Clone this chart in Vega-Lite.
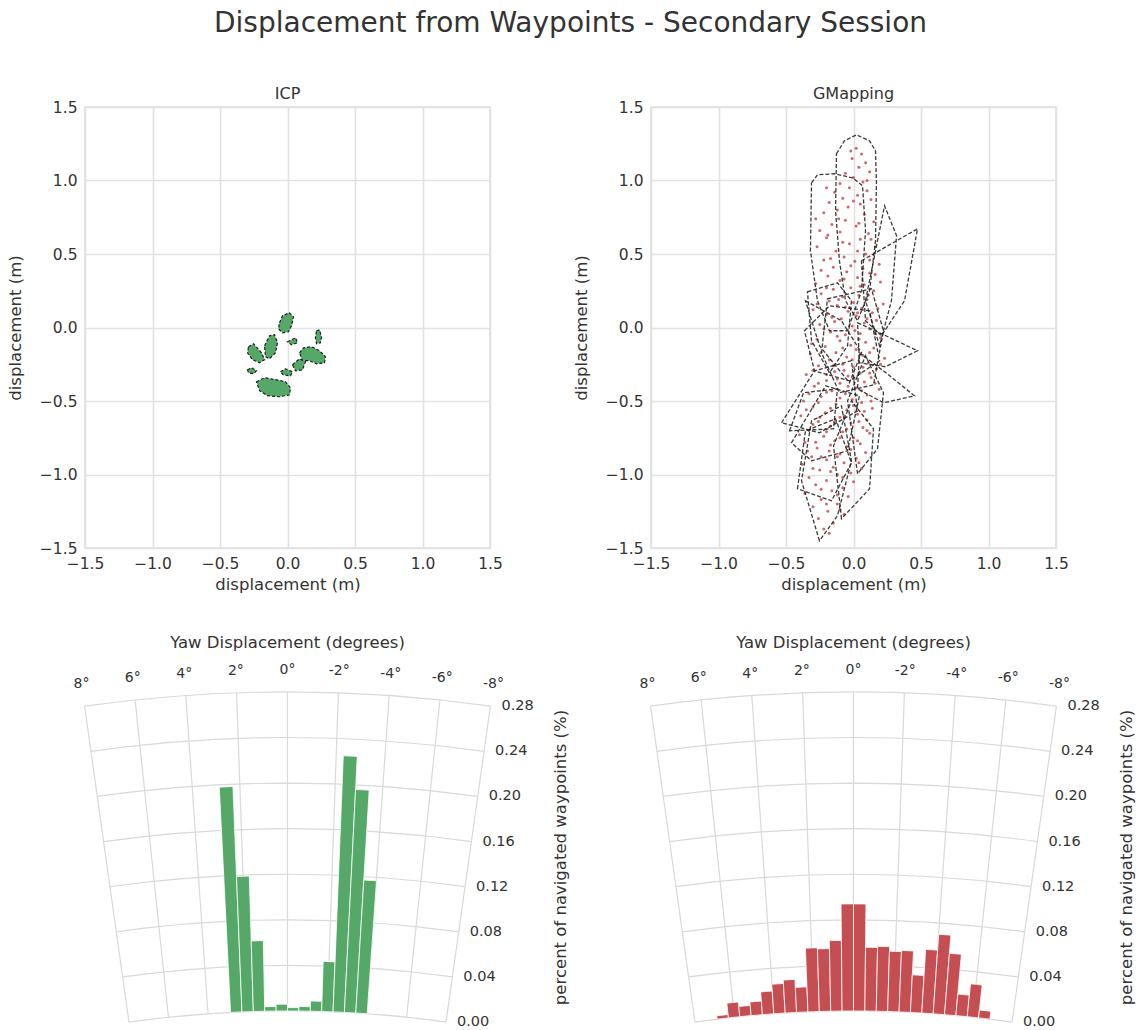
{
  "$schema": "https://vega.github.io/schema/vega-lite/v6.json",
  "padding": {"left": 6, "top": 10, "right": 4, "bottom": 2},
  "background": "white",
  "title": {"text": "Displacement from Waypoints - Secondary Session", "fontSize": 28, "fontWeight": "normal", "color": "#333333", "anchor": "middle", "offset": 47, "font": "DejaVu Sans"},
  "config": {
    "font": "DejaVu Sans",
    "view": {"stroke": "#dedede", "strokeWidth": 1.6},
    "axis": {"domain": false, "ticks": false, "grid": true, "gridColor": "#e2e2e2", "gridWidth": 1.6, "labelFont": "DejaVu Sans", "labelFontSize": 15.5, "labelColor": "#333333", "labelPadding": 8, "titleFont": "DejaVu Sans", "titleFontSize": 16.5, "titleFontWeight": "normal", "titleColor": "#333333", "titlePadding": 5},
    "title": {"font": "DejaVu Sans", "fontWeight": "normal", "color": "#333333"}
  },
  "datasets": {
    "icpBlobs": [
      {"id": "a", "k": 0, "x": -0.059, "y": 0.032}, {"id": "a", "k": 1, "x": -0.037, "y": 0.08}, {"id": "a", "k": 2, "x": 0.013, "y": 0.1}, {"id": "a", "k": 3, "x": 0.044, "y": 0.073}, {"id": "a", "k": 4, "x": 0.03, "y": 0.012}, {"id": "a", "k": 5, "x": 0.007, "y": -0.029}, {"id": "a", "k": 6, "x": -0.037, "y": -0.036}, {"id": "a", "k": 7, "x": -0.067, "y": -0.009},
      {"id": "b", "k": 0, "x": -0.289, "y": -0.131}, {"id": "b", "k": 1, "x": -0.252, "y": -0.111}, {"id": "b", "k": 2, "x": -0.193, "y": -0.172}, {"id": "b", "k": 3, "x": -0.17, "y": -0.219}, {"id": "b", "k": 4, "x": -0.207, "y": -0.24}, {"id": "b", "k": 5, "x": -0.259, "y": -0.219}, {"id": "b", "k": 6, "x": -0.296, "y": -0.172},
      {"id": "c", "k": 0, "x": -0.17, "y": -0.124}, {"id": "c", "k": 1, "x": -0.133, "y": -0.056}, {"id": "c", "k": 2, "x": -0.096, "y": -0.049}, {"id": "c", "k": 3, "x": -0.074, "y": -0.104}, {"id": "c", "k": 4, "x": -0.089, "y": -0.172}, {"id": "c", "k": 5, "x": -0.133, "y": -0.213}, {"id": "c", "k": 6, "x": -0.163, "y": -0.199},
      {"id": "d", "k": 0, "x": 0.0, "y": -0.097}, {"id": "d", "k": 1, "x": 0.059, "y": -0.07}, {"id": "d", "k": 2, "x": 0.074, "y": -0.104}, {"id": "d", "k": 3, "x": 0.03, "y": -0.118},
      {"id": "e", "k": 0, "x": 0.215, "y": -0.022}, {"id": "e", "k": 1, "x": 0.237, "y": -0.016}, {"id": "e", "k": 2, "x": 0.252, "y": -0.063}, {"id": "e", "k": 3, "x": 0.244, "y": -0.104}, {"id": "e", "k": 4, "x": 0.215, "y": -0.111}, {"id": "e", "k": 5, "x": 0.207, "y": -0.07},
      {"id": "f", "k": 0, "x": 0.089, "y": -0.172}, {"id": "f", "k": 1, "x": 0.119, "y": -0.138}, {"id": "f", "k": 2, "x": 0.178, "y": -0.131}, {"id": "f", "k": 3, "x": 0.237, "y": -0.158}, {"id": "f", "k": 4, "x": 0.281, "y": -0.199}, {"id": "f", "k": 5, "x": 0.274, "y": -0.24}, {"id": "f", "k": 6, "x": 0.215, "y": -0.247}, {"id": "f", "k": 7, "x": 0.163, "y": -0.226}, {"id": "f", "k": 8, "x": 0.111, "y": -0.226},
      {"id": "g", "k": 0, "x": 0.037, "y": -0.253}, {"id": "g", "k": 1, "x": 0.089, "y": -0.213}, {"id": "g", "k": 2, "x": 0.133, "y": -0.233}, {"id": "g", "k": 3, "x": 0.111, "y": -0.288}, {"id": "g", "k": 4, "x": 0.059, "y": -0.295},
      {"id": "h", "k": 0, "x": -0.296, "y": -0.288}, {"id": "h", "k": 1, "x": -0.267, "y": -0.274}, {"id": "h", "k": 2, "x": -0.23, "y": -0.294}, {"id": "h", "k": 3, "x": -0.252, "y": -0.315}, {"id": "h", "k": 4, "x": -0.289, "y": -0.308},
      {"id": "i", "k": 0, "x": -0.052, "y": -0.301}, {"id": "i", "k": 1, "x": -0.015, "y": -0.281}, {"id": "i", "k": 2, "x": 0.037, "y": -0.301}, {"id": "i", "k": 3, "x": 0.022, "y": -0.329}, {"id": "i", "k": 4, "x": -0.03, "y": -0.322},
      {"id": "j", "k": 0, "x": -0.23, "y": -0.369}, {"id": "j", "k": 1, "x": -0.17, "y": -0.342}, {"id": "j", "k": 2, "x": -0.081, "y": -0.356}, {"id": "j", "k": 3, "x": -0.015, "y": -0.369}, {"id": "j", "k": 4, "x": 0.022, "y": -0.41}, {"id": "j", "k": 5, "x": 0.015, "y": -0.458}, {"id": "j", "k": 6, "x": -0.059, "y": -0.471}, {"id": "j", "k": 7, "x": -0.148, "y": -0.464}, {"id": "j", "k": 8, "x": -0.207, "y": -0.43}
    ],
    "gmHulls": [
      {"id": 1, "k": 0, "x": -0.126, "y": 1.182}, {"id": 1, "k": 1, "x": -0.067, "y": 1.27}, {"id": 1, "k": 2, "x": 0.022, "y": 1.311}, {"id": 1, "k": 3, "x": 0.119, "y": 1.27}, {"id": 1, "k": 4, "x": 0.163, "y": 1.202}, {"id": 1, "k": 5, "x": 0.17, "y": 0.984}, {"id": 1, "k": 6, "x": 0.163, "y": 0.59}, {"id": 1, "k": 7, "x": 0.119, "y": 0.249}, {"id": 1, "k": 8, "x": 0.03, "y": 0.046}, {"id": 1, "k": 9, "x": -0.059, "y": 0.182}, {"id": 1, "k": 10, "x": -0.104, "y": 0.454}, {"id": 1, "k": 11, "x": -0.133, "y": 0.794},
      {"id": 2, "k": 0, "x": -0.311, "y": 0.984}, {"id": 2, "k": 1, "x": -0.267, "y": 1.039}, {"id": 2, "k": 2, "x": -0.141, "y": 1.046}, {"id": 2, "k": 3, "x": -0.007, "y": 1.018}, {"id": 2, "k": 4, "x": 0.067, "y": 0.964}, {"id": 2, "k": 5, "x": 0.089, "y": 0.658}, {"id": 2, "k": 6, "x": 0.059, "y": 0.249}, {"id": 2, "k": 7, "x": -0.044, "y": -0.022}, {"id": 2, "k": 8, "x": -0.178, "y": -0.022}, {"id": 2, "k": 9, "x": -0.267, "y": 0.182}, {"id": 2, "k": 10, "x": -0.319, "y": 0.522},
      {"id": 3, "k": 0, "x": 0.089, "y": 0.182}, {"id": 3, "k": 1, "x": 0.23, "y": 0.828}, {"id": 3, "k": 2, "x": 0.319, "y": 0.624}, {"id": 3, "k": 3, "x": 0.281, "y": 0.182}, {"id": 3, "k": 4, "x": 0.193, "y": -0.124},
      {"id": 4, "k": 0, "x": 0.059, "y": 0.454}, {"id": 4, "k": 1, "x": 0.474, "y": 0.671}, {"id": 4, "k": 2, "x": 0.378, "y": 0.182}, {"id": 4, "k": 3, "x": 0.207, "y": -0.056}, {"id": 4, "k": 4, "x": 0.089, "y": 0.046},
      {"id": 5, "k": 0, "x": -0.341, "y": 0.243}, {"id": 5, "k": 1, "x": -0.119, "y": 0.304}, {"id": 5, "k": 2, "x": -0.015, "y": 0.182}, {"id": 5, "k": 3, "x": -0.044, "y": -0.124}, {"id": 5, "k": 4, "x": -0.178, "y": -0.308}, {"id": 5, "k": 5, "x": -0.311, "y": -0.09},
      {"id": 6, "k": 0, "x": 0.03, "y": 0.032}, {"id": 6, "k": 1, "x": 0.193, "y": -0.036}, {"id": 6, "k": 2, "x": 0.474, "y": -0.158}, {"id": 6, "k": 3, "x": 0.237, "y": -0.267}, {"id": 6, "k": 4, "x": 0.044, "y": -0.24},
      {"id": 7, "k": 0, "x": 0.044, "y": -0.172}, {"id": 7, "k": 1, "x": 0.222, "y": -0.295}, {"id": 7, "k": 2, "x": 0.452, "y": -0.465}, {"id": 7, "k": 3, "x": 0.222, "y": -0.512}, {"id": 7, "k": 4, "x": 0.03, "y": -0.417},
      {"id": 8, "k": 0, "x": -0.193, "y": 0.195}, {"id": 8, "k": 1, "x": 0.133, "y": 0.263}, {"id": 8, "k": 2, "x": 0.222, "y": -0.022}, {"id": 8, "k": 3, "x": 0.148, "y": -0.39}, {"id": 8, "k": 4, "x": -0.104, "y": -0.444}, {"id": 8, "k": 5, "x": -0.237, "y": -0.172},
      {"id": 9, "k": 0, "x": -0.356, "y": 0.182}, {"id": 9, "k": 1, "x": -0.089, "y": 0.046}, {"id": 9, "k": 2, "x": 0.059, "y": -0.172}, {"id": 9, "k": 3, "x": -0.03, "y": -0.376}, {"id": 9, "k": 4, "x": -0.252, "y": -0.124},
      {"id": 10, "k": 0, "x": -0.533, "y": -0.648}, {"id": 10, "k": 1, "x": -0.289, "y": -0.295}, {"id": 10, "k": 2, "x": -0.015, "y": -0.226}, {"id": 10, "k": 3, "x": 0.03, "y": -0.567}, {"id": 10, "k": 4, "x": -0.252, "y": -0.716},
      {"id": 11, "k": 0, "x": -0.459, "y": -0.784}, {"id": 11, "k": 1, "x": -0.207, "y": -0.397}, {"id": 11, "k": 2, "x": 0.044, "y": -0.465}, {"id": 11, "k": 3, "x": -0.044, "y": -0.839}, {"id": 11, "k": 4, "x": -0.311, "y": -0.907},
      {"id": 12, "k": 0, "x": -0.252, "y": -1.451}, {"id": 12, "k": 1, "x": -0.385, "y": -1.043}, {"id": 12, "k": 2, "x": -0.311, "y": -0.635}, {"id": 12, "k": 3, "x": -0.089, "y": -0.533}, {"id": 12, "k": 4, "x": -0.015, "y": -0.907}, {"id": 12, "k": 5, "x": -0.119, "y": -1.281},
      {"id": 13, "k": 0, "x": -0.415, "y": -1.097}, {"id": 13, "k": 1, "x": -0.356, "y": -0.703}, {"id": 13, "k": 2, "x": -0.133, "y": -0.621}, {"id": 13, "k": 3, "x": -0.015, "y": -0.921}, {"id": 13, "k": 4, "x": -0.163, "y": -1.179},
      {"id": 14, "k": 0, "x": -0.089, "y": -1.301}, {"id": 14, "k": 1, "x": -0.148, "y": -0.805}, {"id": 14, "k": 2, "x": -0.015, "y": -0.499}, {"id": 14, "k": 3, "x": 0.148, "y": -0.689}, {"id": 14, "k": 4, "x": 0.119, "y": -1.097},
      {"id": 15, "k": 0, "x": 0.03, "y": -0.995}, {"id": 15, "k": 1, "x": -0.044, "y": -0.499}, {"id": 15, "k": 2, "x": 0.089, "y": -0.192}, {"id": 15, "k": 3, "x": 0.222, "y": -0.444}, {"id": 15, "k": 4, "x": 0.178, "y": -0.825},
      {"id": 16, "k": 0, "x": -0.474, "y": -0.703}, {"id": 16, "k": 1, "x": -0.37, "y": -0.444}, {"id": 16, "k": 2, "x": -0.119, "y": -0.417}, {"id": 16, "k": 3, "x": -0.148, "y": -0.689},
      {"id": 17, "k": 0, "x": -0.363, "y": -0.022}, {"id": 17, "k": 1, "x": -0.178, "y": 0.148}, {"id": 17, "k": 2, "x": 0.119, "y": 0.114}, {"id": 17, "k": 3, "x": 0.193, "y": -0.226}, {"id": 17, "k": 4, "x": -0.03, "y": -0.363}, {"id": 17, "k": 5, "x": -0.289, "y": -0.295}
    ],
    "gmPoints": [
      {"x": 0.02, "y": 1.22}, {"x": 0.06, "y": 1.18}, {"x": -0.01, "y": 1.15}, {"x": 0.09, "y": 1.12}, {"x": 0.04, "y": 1.09}, {"x": -0.06, "y": 1.05}, {"x": 0.12, "y": 1.06}, {"x": 0.0, "y": 1.02}, {"x": -0.1, "y": 0.98}, {"x": 0.07, "y": 0.99},
      {"x": -0.03, "y": 0.95}, {"x": 0.1, "y": 0.93}, {"x": -0.14, "y": 0.92}, {"x": 0.03, "y": 0.9}, {"x": -0.08, "y": 0.88}, {"x": 0.13, "y": 0.87}, {"x": -0.18, "y": 0.85}, {"x": 0.05, "y": 0.84}, {"x": -0.04, "y": 0.82}, {"x": -0.12, "y": 0.8},
      {"x": -0.22, "y": 0.78}, {"x": 0.08, "y": 0.77}, {"x": -0.28, "y": 0.74}, {"x": -0.06, "y": 0.73}, {"x": 0.15, "y": 0.72}, {"x": -0.16, "y": 0.7}, {"x": 0.02, "y": 0.69}, {"x": -0.25, "y": 0.66}, {"x": -0.1, "y": 0.65}, {"x": 0.11, "y": 0.64},
      {"x": -0.2, "y": 0.61}, {"x": 0.05, "y": 0.6}, {"x": -0.03, "y": 0.57}, {"x": -0.27, "y": 0.55}, {"x": 0.16, "y": 0.55}, {"x": -0.13, "y": 0.52}, {"x": 0.09, "y": 0.5}, {"x": -0.07, "y": 0.48}, {"x": -0.22, "y": 0.46}, {"x": 0.01, "y": 0.45},
      {"x": 0.19, "y": 0.43}, {"x": -0.15, "y": 0.41}, {"x": 0.07, "y": 0.4}, {"x": -0.05, "y": 0.38}, {"x": 0.12, "y": 0.37}, {"x": -0.19, "y": 0.35}, {"x": 0.03, "y": 0.34}, {"x": -0.1, "y": 0.32}, {"x": 0.2, "y": 0.31}, {"x": -0.28, "y": 0.3},
      {"x": 0.08, "y": 0.29}, {"x": -0.02, "y": 0.27}, {"x": -0.15, "y": 0.26}, {"x": 0.15, "y": 0.25}, {"x": -0.24, "y": 0.23}, {"x": 0.04, "y": 0.22}, {"x": -0.08, "y": 0.21}, {"x": 0.1, "y": 0.19}, {"x": -0.18, "y": 0.18}, {"x": 0.0, "y": 0.17},
      {"x": 0.22, "y": 0.16}, {"x": -0.12, "y": 0.15}, {"x": 0.06, "y": 0.13}, {"x": -0.3, "y": 0.12}, {"x": -0.04, "y": 0.11}, {"x": 0.14, "y": 0.1}, {"x": -0.2, "y": 0.09}, {"x": 0.02, "y": 0.08}, {"x": -0.09, "y": 0.06}, {"x": 0.17, "y": 0.05},
      {"x": -0.14, "y": 0.04}, {"x": 0.08, "y": 0.03}, {"x": -0.25, "y": 0.02}, {"x": -0.01, "y": 0.01}, {"x": 0.12, "y": -0.01}, {"x": -0.17, "y": -0.03}, {"x": 0.05, "y": -0.04}, {"x": -0.06, "y": -0.05}, {"x": 0.2, "y": -0.07}, {"x": -0.27, "y": -0.08},
      {"x": -0.1, "y": -0.09}, {"x": 0.09, "y": -0.1}, {"x": -0.02, "y": -0.12}, {"x": -0.21, "y": -0.13}, {"x": 0.15, "y": -0.14}, {"x": 0.02, "y": -0.15}, {"x": -0.13, "y": -0.17}, {"x": -0.32, "y": -0.18}, {"x": 0.07, "y": -0.19}, {"x": -0.05, "y": -0.2},
      {"x": 0.23, "y": -0.21}, {"x": -0.18, "y": -0.22}, {"x": 0.11, "y": -0.24}, {"x": -0.08, "y": -0.25}, {"x": -0.26, "y": -0.26}, {"x": 0.0, "y": -0.27}, {"x": 0.17, "y": -0.28}, {"x": -0.14, "y": -0.3}, {"x": 0.05, "y": -0.31}, {"x": -0.35, "y": -0.32},
      {"x": -0.04, "y": -0.33}, {"x": 0.13, "y": -0.34}, {"x": -0.2, "y": -0.36}, {"x": 0.08, "y": -0.37}, {"x": -0.1, "y": -0.38}, {"x": -0.29, "y": -0.4}, {"x": 0.02, "y": -0.41}, {"x": 0.19, "y": -0.42}, {"x": -0.16, "y": -0.43}, {"x": -0.06, "y": -0.45},
      {"x": 0.1, "y": -0.46}, {"x": -0.24, "y": -0.47}, {"x": -0.01, "y": -0.49}, {"x": -0.37, "y": -0.5}, {"x": 0.06, "y": -0.51}, {"x": -0.13, "y": -0.52}, {"x": -0.3, "y": -0.54}, {"x": 0.14, "y": -0.55}, {"x": -0.05, "y": -0.56}, {"x": -0.21, "y": -0.58},
      {"x": 0.03, "y": -0.59}, {"x": -0.39, "y": -0.6}, {"x": -0.1, "y": -0.61}, {"x": 0.1, "y": -0.63}, {"x": -0.26, "y": -0.64}, {"x": -0.02, "y": -0.65}, {"x": -0.17, "y": -0.67}, {"x": 0.07, "y": -0.68}, {"x": -0.33, "y": -0.7}, {"x": -0.08, "y": -0.71},
      {"x": 0.12, "y": -0.72}, {"x": -0.22, "y": -0.74}, {"x": 0.0, "y": -0.75}, {"x": -0.14, "y": -0.77}, {"x": -0.36, "y": -0.78}, {"x": 0.05, "y": -0.79}, {"x": -0.05, "y": -0.81}, {"x": -0.27, "y": -0.82}, {"x": -0.18, "y": -0.84}, {"x": 0.09, "y": -0.85},
      {"x": -0.1, "y": -0.86}, {"x": -0.31, "y": -0.88}, {"x": 0.02, "y": -0.89}, {"x": -0.2, "y": -0.9}, {"x": -0.07, "y": -0.92}, {"x": -0.38, "y": -0.93}, {"x": -0.15, "y": -0.95}, {"x": 0.06, "y": -0.96}, {"x": -0.25, "y": -0.97}, {"x": -0.02, "y": -0.99},
      {"x": -0.12, "y": -1.0}, {"x": -0.33, "y": -1.02}, {"x": -0.2, "y": -1.04}, {"x": 0.0, "y": -1.05}, {"x": -0.28, "y": -1.07}, {"x": -0.08, "y": -1.09}, {"x": -0.16, "y": -1.11}, {"x": -0.36, "y": -1.13}, {"x": -0.04, "y": -1.15}, {"x": -0.24, "y": -1.17},
      {"x": -0.12, "y": -1.2}, {"x": -0.3, "y": -1.22}, {"x": -0.19, "y": -1.25}, {"x": -0.07, "y": -1.27}, {"x": -0.26, "y": -1.3}, {"x": -0.15, "y": -1.33}, {"x": -0.22, "y": -1.37}, {"x": -0.18, "y": -1.4},
      {"x": -0.02, "y": 1.2}, {"x": 0.1, "y": 1.0}, {"x": -0.2, "y": 0.95}, {"x": 0.0, "y": 0.86}, {"x": -0.11, "y": 0.74}, {"x": 0.04, "y": 0.71}, {"x": -0.19, "y": 0.63}, {"x": 0.13, "y": 0.6}, {"x": -0.08, "y": 0.58}, {"x": 0.03, "y": 0.52},
      {"x": -0.17, "y": 0.47}, {"x": 0.12, "y": 0.46}, {"x": -0.02, "y": 0.42}, {"x": -0.24, "y": 0.39}, {"x": 0.16, "y": 0.36}, {"x": -0.07, "y": 0.33}, {"x": 0.05, "y": 0.28}, {"x": -0.2, "y": 0.27}, {"x": 0.11, "y": 0.22}, {"x": -0.11, "y": 0.19},
      {"x": -0.27, "y": 0.16}, {"x": 0.18, "y": 0.13}, {"x": -0.06, "y": 0.14}, {"x": 0.03, "y": 0.1}, {"x": -0.16, "y": 0.07}, {"x": 0.1, "y": 0.06}, {"x": -0.22, "y": -0.01}, {"x": 0.01, "y": -0.02}, {"x": -0.12, "y": -0.06}, {"x": 0.16, "y": -0.04},
      {"x": -0.31, "y": -0.11}, {"x": 0.04, "y": -0.08}, {"x": -0.08, "y": -0.14}, {"x": 0.12, "y": -0.17}, {"x": -0.24, "y": -0.17}, {"x": -0.01, "y": -0.22}, {"x": 0.2, "y": -0.25}, {"x": -0.15, "y": -0.26}, {"x": 0.07, "y": -0.27}, {"x": -0.3, "y": -0.29},
      {"x": -0.07, "y": -0.29}, {"x": 0.12, "y": -0.31}, {"x": -0.2, "y": -0.32}, {"x": 0.0, "y": -0.35}, {"x": -0.12, "y": -0.35}, {"x": 0.16, "y": -0.38}, {"x": -0.26, "y": -0.38}, {"x": -0.04, "y": -0.4}, {"x": 0.06, "y": -0.43}, {"x": -0.2, "y": -0.44},
      {"x": -0.33, "y": -0.45}, {"x": -0.1, "y": -0.48}, {"x": 0.13, "y": -0.5}, {"x": -0.26, "y": -0.51}, {"x": 0.0, "y": -0.53}, {"x": -0.17, "y": -0.55}, {"x": -0.35, "y": -0.56}, {"x": 0.08, "y": -0.57}, {"x": -0.07, "y": -0.6}, {"x": -0.25, "y": -0.61},
      {"x": 0.04, "y": -0.64}, {"x": -0.14, "y": -0.64}, {"x": -0.3, "y": -0.66}, {"x": -0.05, "y": -0.69}, {"x": 0.1, "y": -0.7}, {"x": -0.2, "y": -0.71}, {"x": -0.4, "y": -0.73}, {"x": -0.1, "y": -0.75}, {"x": 0.03, "y": -0.77}, {"x": -0.28, "y": -0.78},
      {"x": -0.17, "y": -0.8}, {"x": -0.02, "y": -0.83}, {"x": -0.34, "y": -0.84}, {"x": -0.12, "y": -0.88}, {"x": -0.24, "y": -0.88}, {"x": 0.04, "y": -0.92}, {"x": -0.17, "y": -0.98}, {"x": -0.3, "y": -0.96}, {"x": -0.08, "y": -1.02}, {"x": -0.24, "y": -1.1},
      {"x": -0.12, "y": -1.14}, {"x": -0.2, "y": -1.2}, {"x": -0.1, "y": -1.24}
    ],
    "rings": [{"r": 0.0}, {"r": 0.04}, {"r": 0.08}, {"r": 0.12}, {"r": 0.16}, {"r": 0.2}, {"r": 0.24}, {"r": 0.28}],
    "spokes": [
      {"deg": 8, "label": "8°"}, {"deg": 6, "label": "6°"}, {"deg": 4, "label": "4°"}, {"deg": 2, "label": "2°"}, {"deg": 0, "label": "0°"},
      {"deg": -2, "label": "-2°"}, {"deg": -4, "label": "-4°"}, {"deg": -6, "label": "-6°"}, {"deg": -8, "label": "-8°"}
    ],
    "icpYaw": [
      {"a0": 2.865, "a1": 2.292, "pct": 0.198}, {"a0": 2.292, "a1": 1.719, "pct": 0.119}, {"a0": 1.719, "a1": 1.146, "pct": 0.062},
      {"a0": 1.146, "a1": 0.573, "pct": 0.004}, {"a0": 0.573, "a1": 0.0, "pct": 0.006}, {"a0": 0.0, "a1": -0.573, "pct": 0.003},
      {"a0": -0.573, "a1": -1.146, "pct": 0.004}, {"a0": -1.146, "a1": -1.719, "pct": 0.009}, {"a0": -1.719, "a1": -2.292, "pct": 0.044},
      {"a0": -2.292, "a1": -2.865, "pct": 0.225}, {"a0": -2.865, "a1": -3.438, "pct": 0.196}, {"a0": -3.438, "a1": -4.011, "pct": 0.117}
    ],
    "gmYaw": [
      {"a0": 6.875, "a1": 6.303, "pct": 0.003}, {"a0": 6.303, "a1": 5.73, "pct": 0.013}, {"a0": 5.73, "a1": 5.157, "pct": 0.009},
      {"a0": 5.157, "a1": 4.584, "pct": 0.012}, {"a0": 4.584, "a1": 4.011, "pct": 0.02}, {"a0": 4.011, "a1": 3.438, "pct": 0.026},
      {"a0": 3.438, "a1": 2.865, "pct": 0.029}, {"a0": 2.865, "a1": 2.292, "pct": 0.022}, {"a0": 2.292, "a1": 1.719, "pct": 0.056},
      {"a0": 1.719, "a1": 1.146, "pct": 0.055}, {"a0": 1.146, "a1": 0.573, "pct": 0.062}, {"a0": 0.573, "a1": 0.0, "pct": 0.094},
      {"a0": 0.0, "a1": -0.573, "pct": 0.094}, {"a0": -0.573, "a1": -1.146, "pct": 0.056}, {"a0": -1.146, "a1": -1.719, "pct": 0.057},
      {"a0": -1.719, "a1": -2.292, "pct": 0.053}, {"a0": -2.292, "a1": -2.865, "pct": 0.054}, {"a0": -2.865, "a1": -3.438, "pct": 0.033},
      {"a0": -3.438, "a1": -4.011, "pct": 0.056}, {"a0": -4.011, "a1": -4.584, "pct": 0.07}, {"a0": -4.584, "a1": -5.157, "pct": 0.054},
      {"a0": -5.157, "a1": -5.73, "pct": 0.019}, {"a0": -5.73, "a1": -6.303, "pct": 0.029}, {"a0": -6.303, "a1": -6.875, "pct": 0.007}
    ]
  },
  "bounds": "flush",
  "columns": 2,
  "spacing": {"column": 161, "row": 144},
  "concat": [
    {
      "width": 405, "height": 441,
      "title": {"text": "ICP", "fontSize": 16, "offset": -2, "anchor": "middle"},
      "data": {"name": "icpBlobs"},
      "mark": {"type": "line", "interpolate": "linear-closed", "fill": "#55a868", "fillOpacity": 1, "stroke": "#1e1e1e", "strokeWidth": 1.2, "strokeDash": [3, 2]},
      "encoding": {
        "x": {"field": "x", "type": "quantitative", "scale": {"domain": [-1.5, 1.5]}, "axis": {"values": [-1.5, -1, -0.5, 0, 0.5, 1, 1.5], "format": ".1f", "title": "displacement (m)", "labelFlush": false}},
        "y": {"field": "y", "type": "quantitative", "scale": {"domain": [-1.5, 1.5]}, "axis": {"values": [-1.5, -1, -0.5, 0, 0.5, 1, 1.5], "format": ".1f", "title": "displacement (m)", "labelFlush": false, "titlePadding": 16}},
        "detail": {"field": "id"},
        "order": {"field": "k"}
      }
    },
    {
      "width": 405, "height": 441,
      "title": {"text": "GMapping", "fontSize": 16, "offset": -2, "anchor": "middle"},
      "layer": [
        {
          "data": {"name": "gmPoints"},
          "mark": {"type": "circle", "size": 9, "color": "#c44e52", "opacity": 0.85},
          "encoding": {
            "x": {"field": "x", "type": "quantitative", "scale": {"domain": [-1.5, 1.5]}, "axis": {"values": [-1.5, -1, -0.5, 0, 0.5, 1, 1.5], "format": ".1f", "title": "displacement (m)", "labelFlush": false}},
            "y": {"field": "y", "type": "quantitative", "scale": {"domain": [-1.5, 1.5]}, "axis": {"values": [-1.5, -1, -0.5, 0, 0.5, 1, 1.5], "format": ".1f", "title": "displacement (m)", "labelFlush": false, "titlePadding": 16}}
          }
        },
        {
          "data": {"name": "gmHulls"},
          "mark": {"type": "line", "interpolate": "linear-closed", "stroke": "#262626", "strokeWidth": 1.3, "strokeDash": [4, 2], "opacity": 0.9},
          "encoding": {
            "x": {"field": "x", "type": "quantitative", "scale": {"domain": [-1.5, 1.5]}},
            "y": {"field": "y", "type": "quantitative", "scale": {"domain": [-1.5, 1.5]}},
            "detail": {"field": "id"},
            "order": {"field": "k"}
          }
        }
      ]
    },
    {
      "width": 405, "height": 330,
      "view": {"stroke": null},
      "title": {"text": "Yaw Displacement (degrees)", "fontSize": 16.5, "frame": "group", "offset": 12, "anchor": "middle"},
      "layer": [
        {
          "data": {"name": "rings"},
          "mark": {"type": "arc", "filled": false, "color": "#d9d9d9", "strokeWidth": 1.2, "x": {"expr": "width / 2"}, "y": 1458},
          "encoding": {
            "theta": {"datum": -8, "type": "quantitative", "stack": null, "scale": {"type": "linear", "domain": [-8, 8], "range": [0.13963, -0.13963]}},
            "theta2": {"datum": 8},
            "radius": {"field": "r", "type": "quantitative", "scale": {"type": "linear", "zero": false, "domain": [0, 0.28], "range": [1139, 1458]}},
            "radius2": {"field": "r"}
          }
        },
        {
          "data": {"name": "spokes"},
          "mark": {"type": "arc", "filled": false, "color": "#d9d9d9", "strokeWidth": 1.2, "x": {"expr": "width / 2"}, "y": 1458},
          "encoding": {
            "theta": {"field": "deg", "type": "quantitative", "stack": null},
            "theta2": {"field": "deg"},
            "radius": {"datum": 0, "type": "quantitative"},
            "radius2": {"datum": 0.28}
          }
        },
        {
          "data": {"name": "icpYaw"},
          "mark": {"type": "arc", "fill": "#55a868", "stroke": "white", "strokeWidth": 0.8, "x": {"expr": "width / 2"}, "y": 1458},
          "encoding": {
            "theta": {"field": "a0", "type": "quantitative", "stack": null},
            "theta2": {"field": "a1"},
            "radius": {"field": "pct", "type": "quantitative"},
            "radius2": {"datum": 0}
          }
        },
        {
          "data": {"name": "spokes"},
          "mark": {"type": "text", "fontSize": 14, "color": "#333333", "radiusOffset": 22, "x": {"expr": "width / 2"}, "y": 1458},
          "encoding": {
            "theta": {"field": "deg", "type": "quantitative", "stack": null},
            "radius": {"datum": 0.28, "type": "quantitative"},
            "text": {"field": "label"}
          }
        },
        {
          "data": {"name": "rings"},
          "mark": {"type": "text", "fontSize": 14.5, "color": "#333333", "align": "left", "baseline": "middle", "dx": 11, "x": {"expr": "width / 2"}, "y": 1458},
          "encoding": {
            "theta": {"datum": -8, "type": "quantitative", "stack": null},
            "radius": {"field": "r", "type": "quantitative"},
            "text": {"field": "r", "type": "quantitative", "format": ".2f"}
          }
        },
        {
          "data": {"name": "rings"},
          "mark": {"type": "point", "opacity": 0},
          "encoding": {
            "y": {"datum": 0, "type": "quantitative", "scale": {"domain": [0, 1]}, "axis": {"orient": "right", "title": "percent of navigated waypoints (%)", "labels": false, "ticks": false, "domain": false, "grid": false, "titleAngle": 270, "titleX": 70, "titleY": 165, "titleAlign": "center", "titleBaseline": "middle", "titleFontSize": 16.5}}
          }
        }
      ]
    },
    {
      "width": 405, "height": 330,
      "view": {"stroke": null},
      "title": {"text": "Yaw Displacement (degrees)", "fontSize": 16.5, "frame": "group", "offset": 12, "anchor": "middle"},
      "layer": [
        {
          "data": {"name": "rings"},
          "mark": {"type": "arc", "filled": false, "color": "#d9d9d9", "strokeWidth": 1.2, "x": {"expr": "width / 2"}, "y": 1458},
          "encoding": {
            "theta": {"datum": -8, "type": "quantitative", "stack": null, "scale": {"type": "linear", "domain": [-8, 8], "range": [0.13963, -0.13963]}},
            "theta2": {"datum": 8},
            "radius": {"field": "r", "type": "quantitative", "scale": {"type": "linear", "zero": false, "domain": [0, 0.28], "range": [1139, 1458]}},
            "radius2": {"field": "r"}
          }
        },
        {
          "data": {"name": "spokes"},
          "mark": {"type": "arc", "filled": false, "color": "#d9d9d9", "strokeWidth": 1.2, "x": {"expr": "width / 2"}, "y": 1458},
          "encoding": {
            "theta": {"field": "deg", "type": "quantitative", "stack": null},
            "theta2": {"field": "deg"},
            "radius": {"datum": 0, "type": "quantitative"},
            "radius2": {"datum": 0.28}
          }
        },
        {
          "data": {"name": "gmYaw"},
          "mark": {"type": "arc", "fill": "#c44e52", "stroke": "white", "strokeWidth": 0.8, "x": {"expr": "width / 2"}, "y": 1458},
          "encoding": {
            "theta": {"field": "a0", "type": "quantitative", "stack": null},
            "theta2": {"field": "a1"},
            "radius": {"field": "pct", "type": "quantitative"},
            "radius2": {"datum": 0}
          }
        },
        {
          "data": {"name": "spokes"},
          "mark": {"type": "text", "fontSize": 14, "color": "#333333", "radiusOffset": 22, "x": {"expr": "width / 2"}, "y": 1458},
          "encoding": {
            "theta": {"field": "deg", "type": "quantitative", "stack": null},
            "radius": {"datum": 0.28, "type": "quantitative"},
            "text": {"field": "label"}
          }
        },
        {
          "data": {"name": "rings"},
          "mark": {"type": "text", "fontSize": 14.5, "color": "#333333", "align": "left", "baseline": "middle", "dx": 11, "x": {"expr": "width / 2"}, "y": 1458},
          "encoding": {
            "theta": {"datum": -8, "type": "quantitative", "stack": null},
            "radius": {"field": "r", "type": "quantitative"},
            "text": {"field": "r", "type": "quantitative", "format": ".2f"}
          }
        },
        {
          "data": {"name": "rings"},
          "mark": {"type": "point", "opacity": 0},
          "encoding": {
            "y": {"datum": 0, "type": "quantitative", "scale": {"domain": [0, 1]}, "axis": {"orient": "right", "title": "percent of navigated waypoints (%)", "labels": false, "ticks": false, "domain": false, "grid": false, "titleAngle": 270, "titleX": 70, "titleY": 165, "titleAlign": "center", "titleBaseline": "middle", "titleFontSize": 16.5}}
          }
        }
      ]
    }
  ]
}
